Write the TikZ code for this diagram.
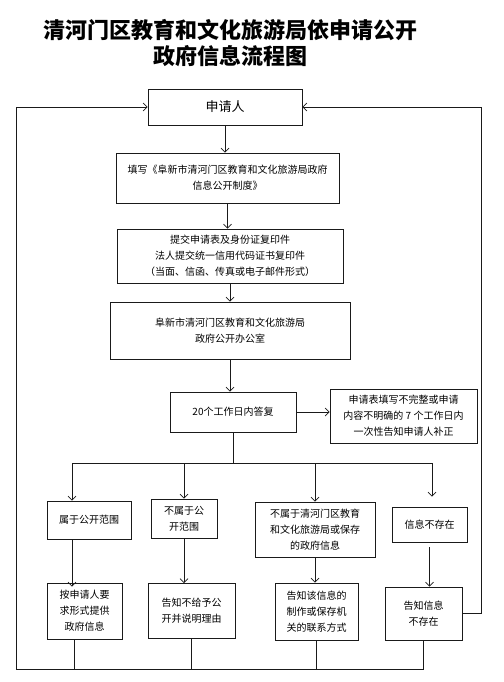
\documentclass[tikz,border=0pt]{standalone}
\usepackage{fontspec}
\newfontfamily\cjk{Noto Sans CJK SC}
\usepackage{xcolor}
\usepackage{tikz}
\usetikzlibrary{arrows.meta,positioning,calc}
\definecolor{cInk}{HTML}{000000}
\definecolor{cLine}{HTML}{1A1A1A}
\tikzset{
  fbox/.style={draw=cLine,line width=0.7pt,align=center,font=\cjk\fontsize{10}{16}\selectfont,inner sep=2pt,text=cInk},
  arr/.style={-{Straight Barb[length=4pt,width=8pt]},line width=0.7pt,color=cLine},
  ln/.style={line width=0.7pt,color=cLine},
  ttl/.style={font=\cjk\bfseries\fontsize{22}{26}\selectfont,align=center,text=cInk},
}

\begin{document}
\begin{tikzpicture}[x=1pt,y=-1pt]
        \useasboundingbox (0,0) rectangle (503,682);
        % title
        \node[ttl] (title) at (230,43) {清河门区教育和文化旅游局依申请公开\\政府信息流程图};
        % main column
        \node[fbox,minimum width=154pt,minimum height=36pt,font=\cjk\fontsize{13}{16}\selectfont] (ask) at (225,107) {申请人};
        \node[fbox,minimum width=223pt,minimum height=50pt] (fill) at (227.5,178) {填写《阜新市清河门区教育和文化旅游局政府\\信息公开制度》};
        \node[fbox,minimum width=226pt,minimum height=54pt] (submit) at (230,256) {提交申请表及身份证复印件\\法人提交统一信用代码证书复印件\\（当面、信函、传真或电子邮件形式）};
        \node[fbox,minimum width=240pt,minimum height=57pt] (office) at (230,330.5) {阜新市清河门区教育和文化旅游局\\政府公开办公室};
        \node[fbox,minimum width=126pt,minimum height=40pt] (reply) at (233,412) {20个工作日内答复};
        \node[fbox,minimum width=147pt,minimum height=54pt] (amend) at (403.5,416) {申请表填写不完整或申请\\内容不明确的 7 个工作日内\\一次性告知申请人补正};
        \draw[arr] (ask.south) -- (ask.south |- fill.north);
        \draw[arr] (fill.south) -- (fill.south |- submit.north);
        \draw[arr] (submit.south) -- (submit.south |- office.north);
        \draw[arr] (office.south) -- (office.south |- reply.north);
        \draw[arr] (reply.east) -- (reply.east -| amend.west);
        % four cases
        \node[fbox,minimum width=84pt,minimum height=38pt] (pub) at (89,520) {属于公开范围};
        \node[fbox,minimum width=66pt,minimum height=39pt] (nopub) at (184,518.5) {不属于公\\开范围};
        \node[fbox,minimum width=120pt,minimum height=55pt] (other) at (315,529.5) {不属于清河门区教育\\和文化旅游局或保存\\的政府信息};
        \node[fbox,minimum width=75pt,minimum height=35pt] (none) at (429.5,524.5) {信息不存在};
        \coordinate (bus) at (233,463);
        \coordinate (b1) at (72,463);
        \coordinate (b4) at (432,463);
        \draw[ln] (reply.south) -- (bus);
        \draw[ln] (b1) -- (b4);
        \draw[arr] (b1) -- (b1 |- pub.north);
        \draw[arr] (nopub.north |- bus) -- (nopub.north);
        \draw[arr] (other.north |- bus) -- (other.north);
        \draw[arr,shorten >=10pt] (b4) -- (b4 |- none.north);
        % answers
        \node[fbox,minimum width=75pt,minimum height=56pt] (give) at (84.5,611) {按申请人要\\求形式提供\\政府信息};
        \node[fbox,minimum width=87pt,minimum height=55pt] (refuse) at (191.5,611) {告知不给予公\\开并说明理由};
        \node[fbox,minimum width=83pt,minimum height=57pt] (refer) at (316.5,611.5) {告知该信息的\\制作或保存机\\关的联系方式};
        \node[fbox,minimum width=77pt,minimum height=53pt] (tellnone) at (423.5,613.5) {告知信息\\不存在};
        \draw[arr,shorten >=-4pt] (b1 |- pub.south) -- (b1 |- give.north);
        \draw[arr] (nopub.south) -- (nopub.south |- refuse.north);
        \draw[arr] (other.south) -- (other.south |- refer.north);
        \draw[arr,shorten <=5pt] (none.south) -- (none.south |- tellnone.north);
        % back to applicant
        \coordinate (bl) at (16,669);
        \coordinate (rt) at (481,107);
        \draw[ln] ([xshift=-10.5pt]give.south) -- ([xshift=-10.5pt]give.south |- bl);
        \draw[ln] (refuse.south) -- (refuse.south |- bl);
        \draw[ln] (refer.south) -- (refer.south |- bl);
        \draw[arr] (tellnone.south) -- (tellnone.south |- bl) -- (bl) -- (bl |- ask.west) -- (ask.west);
        \draw[arr] (tellnone.east) -| (rt) -- (ask.east);
      \end{tikzpicture}
\end{document}
